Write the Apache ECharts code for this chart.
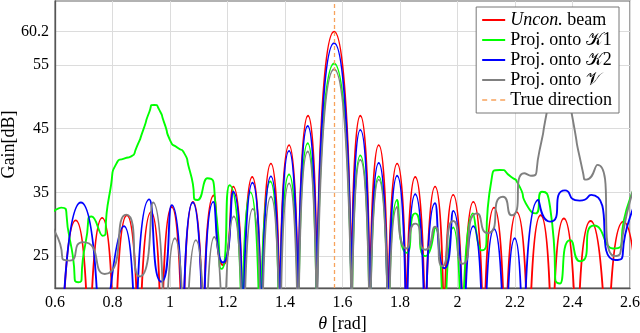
<!DOCTYPE html>
<html><head><meta charset="utf-8">
<script src="https://cdn.jsdelivr.net/npm/echarts@6/dist/echarts.min.js"></script>
<style>html,body{margin:0;padding:0;background:#fff}#c{width:640px;height:333px}</style>
</head><body><div id="c"></div>
<script>
// ---- data (theta [rad], gain [dB]); values below 20 dB are nulls under the axis ----
const yTicks = [25, 35, 45, 55, 60.2];
const trueDirection = 1.5708;
const seriesNames = ['Uncon. beam', 'Proj. onto 𝒦1', 'Proj. onto 𝒦2', 'Proj. onto 𝒱', 'True direction'];

const unconBeam = [[0.575,30.0],[0.620,2],[0.672,30.6],[0.718,2],[0.764,31.0],[0.807,3],[0.850,31.4],[0.892,3],[0.934,31.9],[0.970,4],[1.006,32.7],[1.044,5],[1.080,33.5],[1.116,6],[1.152,34.5],[1.184,23.6],[1.220,35.9],[1.253,8],[1.286,37.4],[1.318,10],[1.351,39.5],[1.382,12],[1.414,42.4],[1.446,15],[1.480,47.0],[1.511,18],[1.5708,60.2],[1.631,18],[1.662,47.0],[1.695,15],[1.726,42.4],[1.758,12],[1.790,39.5],[1.822,10],[1.853,37.4],[1.888,8],[1.922,35.9],[1.953,7],[1.985,34.6],[2.020,6],[2.055,33.5],[2.091,5],[2.127,32.6],[2.166,4],[2.206,31.9],[2.247,3],[2.289,31.4],[2.329,3],[2.370,30.9],[2.416,2],[2.463,30.5],[2.522,2],[2.577,30.4],[2.640,2]];

const projK1 = [[0.580,31.5],[0.622,32.6],[0.652,27.5],[0.681,20.9],[0.706,27.0],[0.728,31.2],[0.765,28.2],[0.788,34.3],[0.817,39.8],[0.840,40.3],[0.863,40.6],[0.884,42.1],[0.907,44.8],[0.928,47.6],[0.945,48.7],[0.962,48.0],[0.980,45.9],[1.000,43.2],[1.029,41.9],[1.046,41.4],[1.070,38.2],[1.096,33.8],[1.130,37.2],[1.162,31.1],[1.180,23.0],[1.207,36.1],[1.250,7],[1.280,35.0],[1.313,7],[1.349,36.7],[1.380,9],[1.414,37.8],[1.446,10],[1.479,42.7],[1.510,15],[1.5708,55.2],[1.632,13],[1.662,40.8],[1.695,10],[1.726,37.5],[1.760,6],[1.790,33.8],[1.823,25.5],[1.853,31.7],[1.888,25.0],[1.922,29.5],[1.952,1],[1.985,29.5],[2.015,1],[2.054,31.7],[2.084,25.9],[2.118,36.9],[2.147,38.5],[2.187,37.4],[2.210,36.4],[2.245,32.7],[2.272,31.7],[2.294,35.1],[2.322,32.7],[2.356,20.7],[2.392,27.5],[2.427,24.2],[2.475,29.8],[2.540,26.2],[2.600,34.0],[2.620,36.0]];

const projK2 = [[0.618,4],[0.690,33.4],[0.757,2],[0.840,29.7],[0.880,2],[0.928,33.9],[0.970,21.0],[1.006,33.0],[1.044,5],[1.079,33.4],[1.116,5],[1.151,33.5],[1.184,24.0],[1.220,35.1],[1.253,7],[1.287,36.5],[1.318,8],[1.351,37.5],[1.382,10],[1.414,41.5],[1.446,14],[1.479,45.4],[1.511,17],[1.5708,58.4],[1.631,17],[1.662,44.8],[1.695,12],[1.726,39.6],[1.758,10],[1.790,37.6],[1.822,7],[1.853,34.7],[1.888,5],[1.922,33.3],[1.955,23.1],[1.985,32.1],[2.020,2],[2.055,29.7],[2.092,1],[2.127,29.3],[2.165,0],[2.199,27.8],[2.228,0],[2.281,33.8],[2.322,30.4],[2.374,35.3],[2.425,33.7],[2.465,34.6],[2.549,24.4],[2.600,31.1],[2.630,35.0]];

const projV = [[0.570,31.0],[0.600,28.8],[0.651,24.3],[0.697,27.2],[0.773,22.2],[0.848,31.5],[0.895,21.8],[0.941,33.4],[0.982,0],[1.017,27.8],[1.052,0],[1.090,27.5],[1.122,0],[1.154,28.0],[1.186,0],[1.222,31.2],[1.254,3],[1.288,32.4],[1.318,4],[1.351,34.3],[1.383,6],[1.414,36.4],[1.446,8],[1.479,41.4],[1.511,13],[1.5708,54.3],[1.632,12],[1.662,40.1],[1.695,9],[1.726,37.0],[1.760,5],[1.790,32.7],[1.822,26.2],[1.853,30.1],[1.888,26.0],[1.922,29.6],[1.947,23.4],[1.985,30.5],[2.018,23.8],[2.068,31.7],[2.104,28.6],[2.158,34.3],[2.188,31.4],[2.232,38.0],[2.255,37.6],[2.285,41.5],[2.310,47.4],[2.355,58.0],[2.397,47.4],[2.437,38.0],[2.448,37.0],[2.487,39.3],[2.547,25.0],[2.600,33.6],[2.620,37.0]];

// ---- rendering ----
const FONT = '"Liberation Serif", "DejaVu Serif", serif';
const AXIS_MIN = 20;
// split the curve at nulls that sit under the axis, so each lobe is its own smooth piece
function lobes(pts) {
  const out = [];
  pts.forEach((p, i) => {
    out.push(p);
    if (p[1] < AXIS_MIN && i > 0 && i < pts.length - 1) {
      out.push([p[0], null]);
      out.push(p);
    }
  });
  return out;
}
function curve(name, pts, color) {
  return {
    name, type: 'line', data: lobes(pts), smooth: 0.9, symbol: 'none', showSymbol: false,
    connectNulls: false, clip: true, animation: false, z: 2,
    lineStyle: { color, width: 1.9 }, itemStyle: { color }
  };
}
const LINE_ICON = 'path://M0,0H23V2H0Z';
const DASH_ICON = 'path://M0,0H5V1.6H0Z M9,0H14V1.6H9Z M18,0H23V1.6H18Z';
const chart = echarts.init(document.getElementById('c'), null, { renderer: 'canvas' });
chart.setOption({
  animation: false,
  backgroundColor: '#fff',
  grid: { left: 55, right: 10, top: 1, bottom: 45, containLabel: false, outerBoundsMode: 'none',
    show: true, borderColor: '#666', borderWidth: 1.2, backgroundColor: 'transparent' },
  xAxis: {
    type: 'value', min: 0.6, max: 2.6, interval: 0.2,
    axisLine: { show: true, lineStyle: { color: '#555', width: 1.3 } },
    axisTick: { show: false },
    splitLine: { show: true, lineStyle: { color: '#dcdcdc', width: 1 } },
    axisLabel: { color: '#000', fontFamily: FONT, fontSize: 16, margin: 7, formatter: v => String(+v.toFixed(1)) },
    name: '{i|θ} [rad]', nameLocation: 'middle', nameGap: 27, nameMoveOverlap: false,
    nameTextStyle: { color: '#000', fontFamily: FONT, fontSize: 18, rich: { i: { fontStyle: 'italic', fontFamily: FONT, fontSize: 18, color: '#000' } } }
  },
  yAxis: {
    type: 'value', min: 20, max: 65,
    axisLine: { show: true, lineStyle: { color: '#555', width: 1.3 } },
    axisTick: { show: false, customValues: yTicks },
    splitLine: { show: true, lineStyle: { color: '#dcdcdc', width: 1 } },
    axisLabel: { customValues: yTicks, color: '#000', fontFamily: FONT, fontSize: 16, margin: 6, formatter: v => String(v) },
    name: 'Gain[dB]', nameLocation: 'middle', nameGap: 37, nameRotate: 90, nameMoveOverlap: false,
    nameTextStyle: { color: '#000', fontFamily: FONT, fontSize: 18 }
  },
  legend: {
    orient: 'vertical', right: 21, top: 7, z: 20, backgroundColor: '#fff', borderColor: '#777', borderWidth: 1,
    padding: [4, 7, 4, 6], itemGap: 2, itemWidth: 23, itemHeight: 14, symbolKeepAspect: true,
    data: seriesNames.map((n, i) => ({ name: n, icon: i === 4 ? DASH_ICON : LINE_ICON })),
    formatter: n => n === seriesNames[0] ? '{i|Uncon.} beam' : n,
    textStyle: { color: '#000', fontFamily: FONT, fontSize: 18, rich: { i: { fontStyle: 'italic', fontFamily: FONT, fontSize: 18, color: '#000' } } }
  },
  series: [
    curve(seriesNames[0], unconBeam, '#ff0000'),
    curve(seriesNames[1], projK1, '#00ff00'),
    curve(seriesNames[2], projK2, '#0000ff'),
    curve(seriesNames[3], projV, '#808080'),
    {
      name: seriesNames[4], type: 'line', data: [], symbol: 'none', z: 3,
      lineStyle: { color: '#f7a35c', width: 1.3, type: [4, 3] }, itemStyle: { color: '#f7a35c' },
      markLine: { symbol: 'none', silent: true, label: { show: false }, animation: false,
        lineStyle: { color: '#f7a35c', width: 1.3, type: [4, 3] }, data: [{ xAxis: trueDirection }] }
    }
  ]
});
</script></body></html>
